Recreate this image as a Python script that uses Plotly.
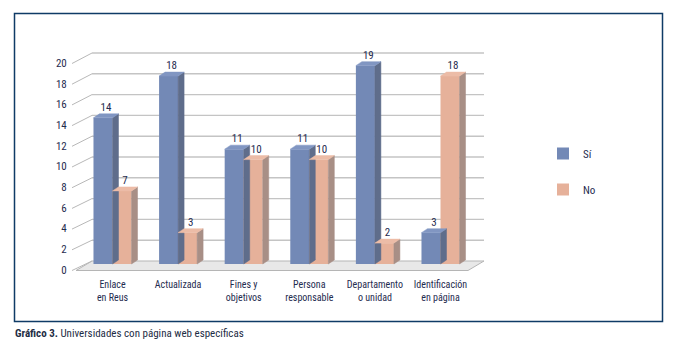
import plotly.graph_objects as go

# ---- data ----
categories = ["Enlace<br>en Reus", "Actualizada", "Fines y<br>objetivos",
              "Persona<br>responsable", "Departamento<br>o unidad", "Identificación<br>en página"]
si_values = [14, 18, 11, 11, 19, 3]
no_values = [7, 3, 10, 10, 2, 18]
y_ticks = list(range(0, 21, 2))
series_names = ["Sí", "No"]

# ---- geometry helpers (pixels) ----
W, H = 682, 356
FONT = "Roboto Condensed, DejaVu Sans Condensed, sans-serif"
TXT = "#1f2c4f"

def px(xp):
    return xp / W

def py(yp):
    return 1 - yp / H

CAT0, CAT_STEP = 112.5, 65.6          # px of first category center, px per category
X_LEFT, X_RIGHT = 76, 468             # front floor edge
ZERO_PX, UNIT_PX = 264, 10.44         # bar zero line & px per unit
Y_BOT, Y_TOP = 270, 40
LBL_ZERO, LBL_UNIT = 270, 10.35       # front tick-label scale
BACK_ZERO, BACK_UNIT = 261, 10.4      # back wall grid scale
BACK_L, BACK_R = 92, 484

xr0 = (X_LEFT - CAT0) / CAT_STEP
xr1 = (X_RIGHT - CAT0) / CAT_STEP
yr0 = (ZERO_PX - Y_BOT) / UNIT_PX
yr1 = (ZERO_PX - Y_TOP) / UNIT_PX

BW = 0.29
DXU = 6 / CAT_STEP
DYU = 4 / UNIT_PX

colors = {
    "Sí": dict(front="#7389b6", side="#5f6d8b", top="#8196c2"),
    "No": dict(front="#e6b19a", side="#a88f86", top="#ecbca7"),
}

fig = go.Figure()
xs = list(range(len(categories)))

for name, vals, off in [("Sí", si_values, -BW), ("No", no_values, 0.0)]:
    c = colors[name]
    sx, sy, tx, ty = [], [], [], []
    for i, v in zip(xs, vals):
        xl = i + off
        xr = xl + BW
        sx += [xr, xr + DXU, xr + DXU, xr, xr, None]
        sy += [0, DYU, v + DYU, v, 0, None]
        tx += [xl, xl + DXU, xr + DXU, xr, xl, None]
        ty += [v, v + DYU, v + DYU, v, v, None]
    fig.add_trace(go.Scatter(x=sx, y=sy, fill="toself", fillcolor=c["side"], mode="lines",
                             line=dict(width=0.5, color=c["side"]), showlegend=False, hoverinfo="skip"))
    fig.add_trace(go.Scatter(x=tx, y=ty, fill="toself", fillcolor=c["top"], mode="lines",
                             line=dict(width=0.5, color=c["top"]), showlegend=False, hoverinfo="skip"))
    fig.add_trace(go.Bar(x=xs, y=vals, name=name, width=BW, offset=off,
                         marker=dict(color=c["front"], line=dict(width=0)),
                         legendgroup=name))

# value labels
for vals, off in [(si_values, -BW), (no_values, 0.0)]:
    fig.add_trace(go.Scatter(
        x=[i + off + BW / 2 + DXU / 2 for i in xs], y=[v + DYU for v in vals],
        text=[str(v) for v in vals], mode="text", textposition="top center",
        textfont=dict(family=FONT, size=11, color=TXT), showlegend=False, hoverinfo="skip"))

# dummy trace for label axis
fig.add_trace(go.Scatter(x=[0], y=[0], yaxis="y2", mode="markers",
                         marker=dict(opacity=0), showlegend=False, hoverinfo="skip"))

shapes = []
# floor
shapes.append(dict(type="path", xref="paper", yref="paper", layer="below",
                   path=f"M{px(X_LEFT)},{py(270.5)} L{px(X_RIGHT)},{py(270.5)} L{px(BACK_R)},{py(BACK_ZERO)} L{px(BACK_L)},{py(BACK_ZERO)} Z",
                   fillcolor="#e8e8e8", line=dict(color="#b5b5b5", width=1)))
# back-wall grid lines and slanted connectors
for t in y_ticks:
    yb = BACK_ZERO - BACK_UNIT * t
    yf = LBL_ZERO - LBL_UNIT * t
    if t > 0:
        shapes.append(dict(type="line", xref="paper", yref="paper", layer="below",
                           x0=px(BACK_L), x1=px(BACK_R), y0=py(yb), y1=py(yb),
                           line=dict(color="#c4c4c4", width=1.4)))
    shapes.append(dict(type="line", xref="paper", yref="paper", layer="below",
                       x0=px(72), x1=px(BACK_L), y0=py(yf + 0.5), y1=py(yb),
                       line=dict(color="#b8b8b8", width=1)))
# outer border
shapes.append(dict(type="rect", xref="paper", yref="paper",
                   x0=px(14.5), x1=px(662.5), y0=py(321.5), y1=py(13.5),
                   line=dict(color="#0f3b66", width=1.5)))

fig.update_layout(
    width=W, height=H, margin=dict(l=0, r=0, t=0, b=0, autoexpand=False),
    paper_bgcolor="white", plot_bgcolor="rgba(0,0,0,0)",
    barmode="overlay",
    font=dict(family=FONT, size=11, color=TXT),
    xaxis=dict(domain=[px(X_LEFT), px(X_RIGHT)], range=[xr0, xr1],
               tickvals=xs, ticktext=categories, showgrid=False, zeroline=False,
               showline=False, ticks="outside", ticklen=5, tickcolor="rgba(0,0,0,0)",
               tickangle=0, automargin=False,
               tickfont=dict(family=FONT, size=10, color=TXT), fixedrange=True),
    yaxis=dict(domain=[py(Y_BOT), py(Y_TOP)], range=[yr0, yr1], visible=False, automargin=False),
    yaxis2=dict(overlaying="y", side="left", range=[(LBL_ZERO - Y_BOT) / LBL_UNIT, (LBL_ZERO - Y_TOP) / LBL_UNIT],
                tickvals=y_ticks, showgrid=False, zeroline=False, showline=False,
                ticks="outside", ticklen=6, tickcolor="rgba(0,0,0,0)", automargin=False,
                tickfont=dict(family=FONT, size=11, color=TXT)),
    legend=dict(x=px(543), y=py(139), xanchor="left", yanchor="top",
                tracegroupgap=17, font=dict(family=FONT, size=11, color=TXT),
                bgcolor="rgba(0,0,0,0)"),
    shapes=shapes,
    annotations=[dict(x=px(13), y=py(333), xref="paper", yref="paper", xanchor="left", yanchor="middle",
                      showarrow=False,
                      text="<b>Gráfico 3.</b> Universidades con página web específicas",
                      font=dict(family=FONT, size=11, color="#1e2d45"))],
)

fig.write_html("out.html", config={"displayModeBar": False},
               post_script="document.body.style.margin='0';")
